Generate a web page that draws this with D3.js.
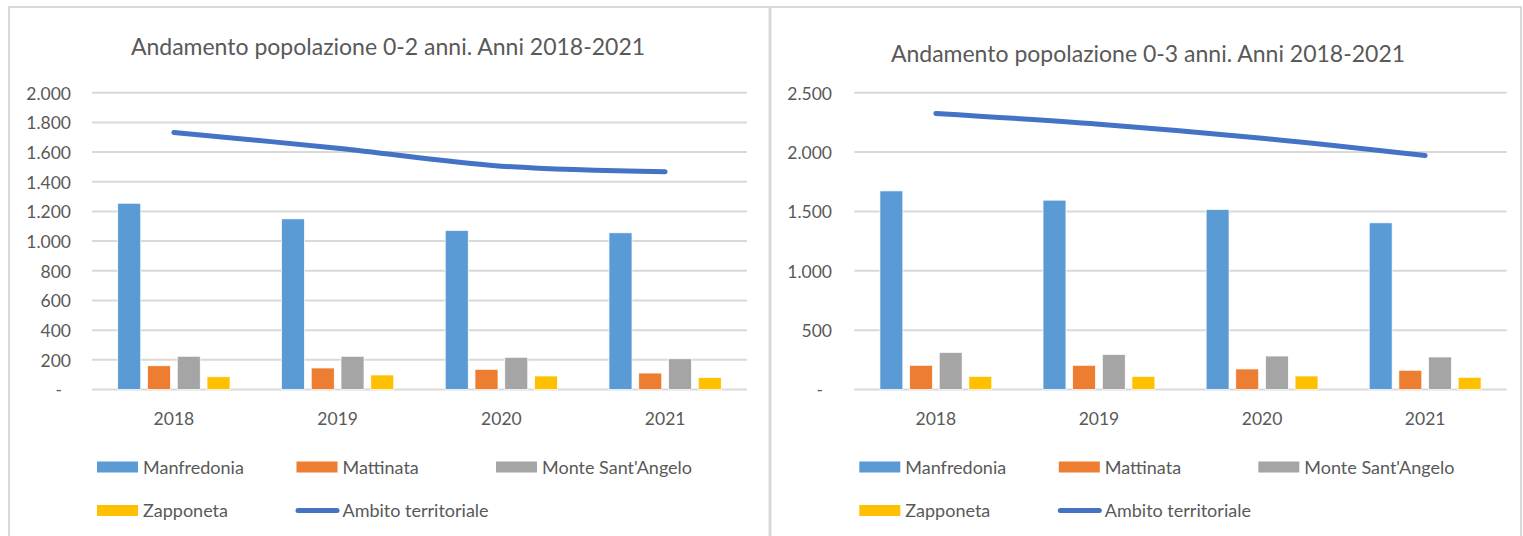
<!DOCTYPE html>
<html>
<head>
<meta charset="utf-8">
<script src="https://cdn.jsdelivr.net/npm/d3@7"></script>
<style>
  html, body { margin: 0; padding: 0; background: #ffffff; }
  svg { display: block; }
  text { font-family: Lato, "Open Sans", sans-serif; fill: #595959; }
</style>
</head>
<body>
<svg id="chart" width="1523" height="536"></svg>
<script>
// ---------------- DATA ----------------
const years = ["2018", "2019", "2020", "2021"];
const seriesNames = ["Manfredonia", "Mattinata", "Monte Sant'Angelo", "Zapponeta"];
const lineName = "Ambito territoriale";

// Chart 1: 0-2 anni
const title02 = "Andamento popolazione 0-2 anni. Anni 2018-2021";
const manfredonia02 = [1255, 1150, 1072, 1056];
const mattinata02   = [160, 145, 136, 111];
const monte02       = [224, 224, 217, 207];
const zapponeta02   = [86, 98, 91, 80];
const ambito02      = [1732, 1626, 1505, 1467];
const ticks02       = [0, 200, 400, 600, 800, 1000, 1200, 1400, 1600, 1800, 2000];

// Chart 2: 0-3 anni
const title03 = "Andamento popolazione 0-3 anni. Anni 2018-2021";
const manfredonia03 = [1673, 1595, 1517, 1404];
const mattinata03   = [204, 204, 173, 162];
const monte03       = [313, 296, 282, 274];
const zapponeta03   = [111, 111, 114, 103];
const ambito03      = [2325, 2235, 2117, 1971];
const ticks03       = [0, 500, 1000, 1500, 2000, 2500];

// ---------------- STYLE ----------------
const colors = ["#5B9BD5", "#ED7D31", "#A5A5A5", "#FFC000"];
const lineColor = "#4472C4";
const gridColor = "#D9D9D9";

const itLocale = d3.formatLocale({ decimal: ",", thousands: ".", grouping: [3], currency: ["", " €"] });
const fmt = itLocale.format(",d");

const svg = d3.select("#chart");

// panel borders
svg.append("rect").attr("x", 0).attr("y", 0).attr("width", 1523).attr("height", 536).attr("fill", "#fff");
svg.append("line").attr("x1", 8).attr("x2", 1521).attr("y1", 7).attr("y2", 7)
  .attr("stroke", gridColor).attr("stroke-width", 2);
[9, 770, 1521].forEach(x => {
  svg.append("line").attr("x1", x).attr("x2", x).attr("y1", 6).attr("y2", 540)
    .attr("stroke", gridColor).attr("stroke-width", x === 770 ? 3 : 2);
});

function drawChart(cfg) {
  const g = svg.append("g");
  const bars = [cfg.manf, cfg.matt, cfg.monte, cfg.zapp];
  const x = d3.scaleBand().domain(years).range([cfg.x0, cfg.x1]).paddingInner(0).paddingOuter(0);
  const groupW = x.bandwidth() * 0.686;
  const xs = d3.scaleBand().domain(seriesNames).range([0, groupW]).paddingInner(0.226).paddingOuter(0);
  const y = d3.scaleLinear().domain([0, cfg.max]).range([cfg.yBase, cfg.yTop]);

  // gridlines
  g.append("g").selectAll("line").data(cfg.ticks).join("line")
    .attr("x1", cfg.x0).attr("x2", cfg.x1)
    .attr("y1", d => y(d)).attr("y2", d => y(d))
    .attr("stroke", gridColor).attr("stroke-width", 2);

  // y axis labels
  const yAxis = d3.axisLeft(y).tickValues(cfg.ticks).tickSize(0).tickPadding(0)
    .tickFormat(d => d === 0 ? "-" : fmt(d));
  const ya = g.append("g").attr("transform", `translate(${cfg.labelRight},0)`).call(yAxis);
  ya.select(".domain").remove();
  ya.selectAll("text").attr("font-size", 17.5).attr("fill", "#595959")
    .attr("font-family", "Lato, sans-serif")
    .attr("dy", "0.36em")
    .attr("dx", d => d === 0 ? -9 : 0);

  // bars
  seriesNames.forEach((name, si) => {
    g.append("g").selectAll("rect").data(years).join("rect")
      .attr("x", (yr) => x(yr) + (x.bandwidth() - groupW) / 2 + xs(name))
      .attr("width", xs.bandwidth())
      .attr("y", (yr, i) => y(bars[si][i]))
      .attr("height", (yr, i) => y(0) - y(bars[si][i]))
      .attr("fill", colors[si])
      .attr("stroke", "#ffffff").attr("stroke-width", 0.75);
  });

  // line
  const line = d3.line()
    .x((d, i) => x(years[i]) + x.bandwidth() / 2)
    .y(d => y(d))
    .curve(d3.curveCatmullRom.alpha(0.5));
  g.append("path").datum(cfg.ambito).attr("d", line)
    .attr("fill", "none").attr("stroke", lineColor).attr("stroke-width", 5)
    .attr("stroke-linecap", "round").attr("stroke-linejoin", "round");

  // x axis labels
  const xAxis = d3.axisBottom(x).tickSize(0).tickPadding(0);
  const xa = g.append("g").attr("transform", `translate(0,${cfg.yearBaseline})`).call(xAxis);
  xa.select(".domain").remove();
  xa.selectAll("text").attr("font-size", 17.5).attr("fill", "#595959")
    .attr("font-family", "Lato, sans-serif").attr("dy", 0);

  // title
  g.append("text").attr("x", cfg.titleX).attr("y", cfg.titleY)
    .attr("text-anchor", "middle").attr("font-size", 23).text(cfg.title);

  // legend
  const legendItems = seriesNames.map((n, i) => ({ name: n, color: colors[i], type: "bar" }))
    .concat([{ name: lineName, color: lineColor, type: "line" }]);
  legendItems.forEach((it, i) => {
    const row = Math.floor(i / 3), col = i % 3;
    const lx = cfg.x0 + 5 + col * 199.5;
    const cy = cfg.legendY[row];
    if (it.type === "bar") {
      g.append("rect").attr("x", lx).attr("y", cy - 5.5).attr("width", 41).attr("height", 11)
        .attr("fill", it.color);
    } else {
      g.append("line").attr("x1", lx + 1.5).attr("x2", lx + 40.5).attr("y1", cy).attr("y2", cy)
        .attr("stroke", it.color).attr("stroke-width", 5).attr("stroke-linecap", "round");
    }
    g.append("text").attr("x", lx + 46).attr("y", cy + 6.5)
      .attr("font-size", 18).text(it.name);
  });
}

drawChart({
  title: title02, titleX: 388, titleY: 54.5,
  manf: manfredonia02, matt: mattinata02, monte: monte02, zapp: zapponeta02, ambito: ambito02,
  ticks: ticks02, max: 2000,
  x0: 92, x1: 747, yBase: 389.5, yTop: 92.7, labelRight: 71,
  yearBaseline: 425, legendY: [467, 510.5]
});

drawChart({
  title: title03, titleX: 1148, titleY: 61.5,
  manf: manfredonia03, matt: mattinata03, monte: monte03, zapp: zapponeta03, ambito: ambito03,
  ticks: ticks03, max: 2500,
  x0: 854.3, x1: 1506.7, yBase: 389.5, yTop: 92.7, labelRight: 832,
  yearBaseline: 425, legendY: [467, 510.5]
});
</script>
</body>
</html>
